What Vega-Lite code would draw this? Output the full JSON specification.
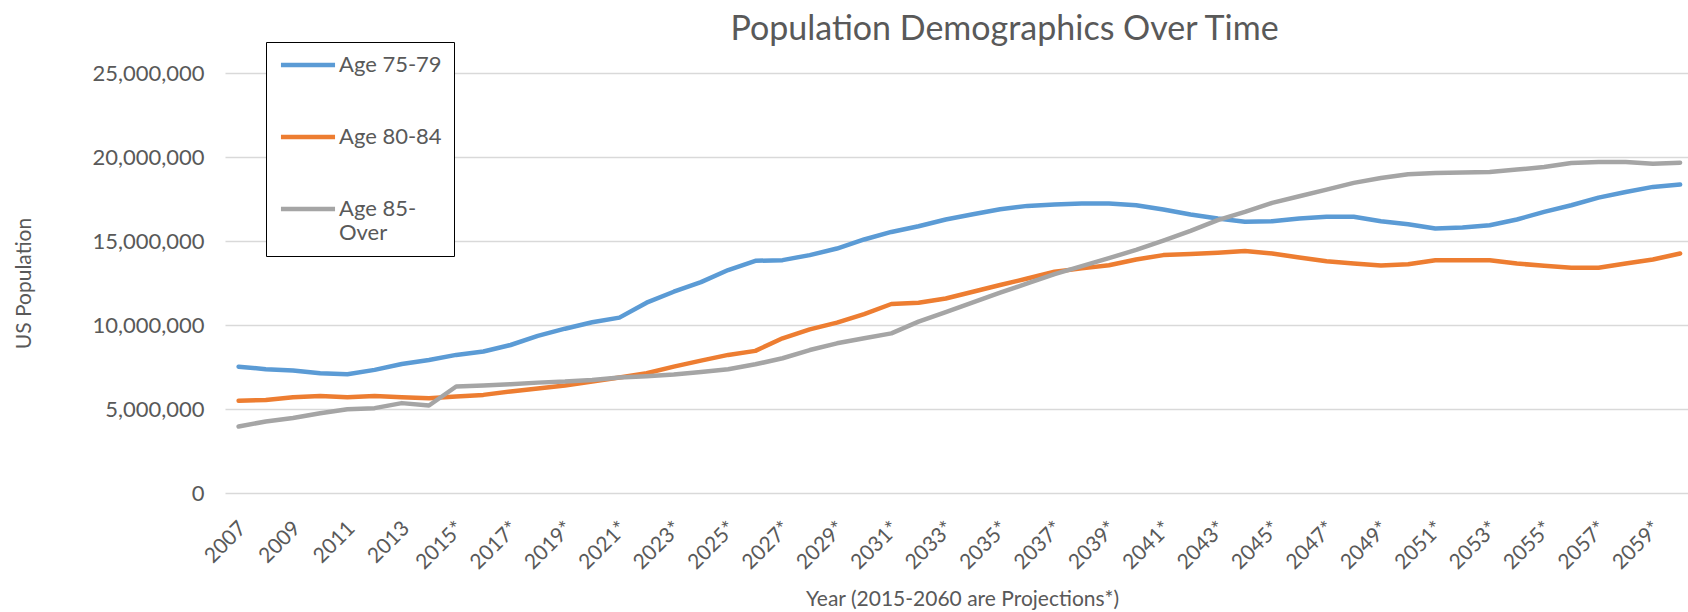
{
  "$schema": "https://vega.github.io/schema/vega-lite/v6.json",
  "autosize": {"type": "none"},
  "padding": {"left": 225, "top": 73, "right": 0, "bottom": 119},
  "width": 1463,
  "height": 420,
  "background": "white",
  "title": {
    "text": "Population Demographics Over Time",
    "font": "Lato",
    "fontSize": 34,
    "fontWeight": "normal",
    "color": "#595959",
    "anchor": "middle",
    "frame": "group",
    "dx": 48,
    "dy": 33,
    "offset": 28
  },
  "data": {
    "values": [
      {"year": 2007, "group": "Age 75-79", "pop": 7520000},
      {"year": 2008, "group": "Age 75-79", "pop": 7370000},
      {"year": 2009, "group": "Age 75-79", "pop": 7290000},
      {"year": 2010, "group": "Age 75-79", "pop": 7130000},
      {"year": 2011, "group": "Age 75-79", "pop": 7070000},
      {"year": 2012, "group": "Age 75-79", "pop": 7330000},
      {"year": 2013, "group": "Age 75-79", "pop": 7680000},
      {"year": 2014, "group": "Age 75-79", "pop": 7920000},
      {"year": 2015, "group": "Age 75-79", "pop": 8220000},
      {"year": 2016, "group": "Age 75-79", "pop": 8420000},
      {"year": 2017, "group": "Age 75-79", "pop": 8810000},
      {"year": 2018, "group": "Age 75-79", "pop": 9350000},
      {"year": 2019, "group": "Age 75-79", "pop": 9780000},
      {"year": 2020, "group": "Age 75-79", "pop": 10160000},
      {"year": 2021, "group": "Age 75-79", "pop": 10440000},
      {"year": 2022, "group": "Age 75-79", "pop": 11330000},
      {"year": 2023, "group": "Age 75-79", "pop": 11980000},
      {"year": 2024, "group": "Age 75-79", "pop": 12550000},
      {"year": 2025, "group": "Age 75-79", "pop": 13270000},
      {"year": 2026, "group": "Age 75-79", "pop": 13820000},
      {"year": 2027, "group": "Age 75-79", "pop": 13860000},
      {"year": 2028, "group": "Age 75-79", "pop": 14160000},
      {"year": 2029, "group": "Age 75-79", "pop": 14550000},
      {"year": 2030, "group": "Age 75-79", "pop": 15090000},
      {"year": 2031, "group": "Age 75-79", "pop": 15540000},
      {"year": 2032, "group": "Age 75-79", "pop": 15880000},
      {"year": 2033, "group": "Age 75-79", "pop": 16280000},
      {"year": 2034, "group": "Age 75-79", "pop": 16590000},
      {"year": 2035, "group": "Age 75-79", "pop": 16890000},
      {"year": 2036, "group": "Age 75-79", "pop": 17090000},
      {"year": 2037, "group": "Age 75-79", "pop": 17170000},
      {"year": 2038, "group": "Age 75-79", "pop": 17230000},
      {"year": 2039, "group": "Age 75-79", "pop": 17230000},
      {"year": 2040, "group": "Age 75-79", "pop": 17130000},
      {"year": 2041, "group": "Age 75-79", "pop": 16880000},
      {"year": 2042, "group": "Age 75-79", "pop": 16580000},
      {"year": 2043, "group": "Age 75-79", "pop": 16340000},
      {"year": 2044, "group": "Age 75-79", "pop": 16140000},
      {"year": 2045, "group": "Age 75-79", "pop": 16180000},
      {"year": 2046, "group": "Age 75-79", "pop": 16340000},
      {"year": 2047, "group": "Age 75-79", "pop": 16440000},
      {"year": 2048, "group": "Age 75-79", "pop": 16440000},
      {"year": 2049, "group": "Age 75-79", "pop": 16180000},
      {"year": 2050, "group": "Age 75-79", "pop": 16000000},
      {"year": 2051, "group": "Age 75-79", "pop": 15740000},
      {"year": 2052, "group": "Age 75-79", "pop": 15800000},
      {"year": 2053, "group": "Age 75-79", "pop": 15940000},
      {"year": 2054, "group": "Age 75-79", "pop": 16280000},
      {"year": 2055, "group": "Age 75-79", "pop": 16730000},
      {"year": 2056, "group": "Age 75-79", "pop": 17130000},
      {"year": 2057, "group": "Age 75-79", "pop": 17580000},
      {"year": 2058, "group": "Age 75-79", "pop": 17920000},
      {"year": 2059, "group": "Age 75-79", "pop": 18220000},
      {"year": 2060, "group": "Age 75-79", "pop": 18360000},
      {"year": 2007, "group": "Age 80-84", "pop": 5490000},
      {"year": 2008, "group": "Age 80-84", "pop": 5540000},
      {"year": 2009, "group": "Age 80-84", "pop": 5700000},
      {"year": 2010, "group": "Age 80-84", "pop": 5780000},
      {"year": 2011, "group": "Age 80-84", "pop": 5700000},
      {"year": 2012, "group": "Age 80-84", "pop": 5780000},
      {"year": 2013, "group": "Age 80-84", "pop": 5700000},
      {"year": 2014, "group": "Age 80-84", "pop": 5640000},
      {"year": 2015, "group": "Age 80-84", "pop": 5740000},
      {"year": 2016, "group": "Age 80-84", "pop": 5840000},
      {"year": 2017, "group": "Age 80-84", "pop": 6040000},
      {"year": 2018, "group": "Age 80-84", "pop": 6220000},
      {"year": 2019, "group": "Age 80-84", "pop": 6400000},
      {"year": 2020, "group": "Age 80-84", "pop": 6630000},
      {"year": 2021, "group": "Age 80-84", "pop": 6870000},
      {"year": 2022, "group": "Age 80-84", "pop": 7130000},
      {"year": 2023, "group": "Age 80-84", "pop": 7520000},
      {"year": 2024, "group": "Age 80-84", "pop": 7880000},
      {"year": 2025, "group": "Age 80-84", "pop": 8220000},
      {"year": 2026, "group": "Age 80-84", "pop": 8460000},
      {"year": 2027, "group": "Age 80-84", "pop": 9210000},
      {"year": 2028, "group": "Age 80-84", "pop": 9740000},
      {"year": 2029, "group": "Age 80-84", "pop": 10140000},
      {"year": 2030, "group": "Age 80-84", "pop": 10650000},
      {"year": 2031, "group": "Age 80-84", "pop": 11250000},
      {"year": 2032, "group": "Age 80-84", "pop": 11330000},
      {"year": 2033, "group": "Age 80-84", "pop": 11580000},
      {"year": 2034, "group": "Age 80-84", "pop": 11980000},
      {"year": 2035, "group": "Age 80-84", "pop": 12380000},
      {"year": 2036, "group": "Age 80-84", "pop": 12770000},
      {"year": 2037, "group": "Age 80-84", "pop": 13170000},
      {"year": 2038, "group": "Age 80-84", "pop": 13370000},
      {"year": 2039, "group": "Age 80-84", "pop": 13560000},
      {"year": 2040, "group": "Age 80-84", "pop": 13900000},
      {"year": 2041, "group": "Age 80-84", "pop": 14160000},
      {"year": 2042, "group": "Age 80-84", "pop": 14220000},
      {"year": 2043, "group": "Age 80-84", "pop": 14300000},
      {"year": 2044, "group": "Age 80-84", "pop": 14400000},
      {"year": 2045, "group": "Age 80-84", "pop": 14260000},
      {"year": 2046, "group": "Age 80-84", "pop": 14020000},
      {"year": 2047, "group": "Age 80-84", "pop": 13800000},
      {"year": 2048, "group": "Age 80-84", "pop": 13660000},
      {"year": 2049, "group": "Age 80-84", "pop": 13540000},
      {"year": 2050, "group": "Age 80-84", "pop": 13620000},
      {"year": 2051, "group": "Age 80-84", "pop": 13860000},
      {"year": 2052, "group": "Age 80-84", "pop": 13860000},
      {"year": 2053, "group": "Age 80-84", "pop": 13860000},
      {"year": 2054, "group": "Age 80-84", "pop": 13660000},
      {"year": 2055, "group": "Age 80-84", "pop": 13520000},
      {"year": 2056, "group": "Age 80-84", "pop": 13410000},
      {"year": 2057, "group": "Age 80-84", "pop": 13410000},
      {"year": 2058, "group": "Age 80-84", "pop": 13660000},
      {"year": 2059, "group": "Age 80-84", "pop": 13900000},
      {"year": 2060, "group": "Age 80-84", "pop": 14260000},
      {"year": 2007, "group": "Age 85-Over", "pop": 3960000},
      {"year": 2008, "group": "Age 85-Over", "pop": 4260000},
      {"year": 2009, "group": "Age 85-Over", "pop": 4460000},
      {"year": 2010, "group": "Age 85-Over", "pop": 4750000},
      {"year": 2011, "group": "Age 85-Over", "pop": 4990000},
      {"year": 2012, "group": "Age 85-Over", "pop": 5050000},
      {"year": 2013, "group": "Age 85-Over", "pop": 5350000},
      {"year": 2014, "group": "Age 85-Over", "pop": 5210000},
      {"year": 2015, "group": "Age 85-Over", "pop": 6340000},
      {"year": 2016, "group": "Age 85-Over", "pop": 6400000},
      {"year": 2017, "group": "Age 85-Over", "pop": 6480000},
      {"year": 2018, "group": "Age 85-Over", "pop": 6570000},
      {"year": 2019, "group": "Age 85-Over", "pop": 6630000},
      {"year": 2020, "group": "Age 85-Over", "pop": 6730000},
      {"year": 2021, "group": "Age 85-Over", "pop": 6870000},
      {"year": 2022, "group": "Age 85-Over", "pop": 6950000},
      {"year": 2023, "group": "Age 85-Over", "pop": 7050000},
      {"year": 2024, "group": "Age 85-Over", "pop": 7200000},
      {"year": 2025, "group": "Age 85-Over", "pop": 7370000},
      {"year": 2026, "group": "Age 85-Over", "pop": 7660000},
      {"year": 2027, "group": "Age 85-Over", "pop": 8020000},
      {"year": 2028, "group": "Age 85-Over", "pop": 8510000},
      {"year": 2029, "group": "Age 85-Over", "pop": 8910000},
      {"year": 2030, "group": "Age 85-Over", "pop": 9210000},
      {"year": 2031, "group": "Age 85-Over", "pop": 9500000},
      {"year": 2032, "group": "Age 85-Over", "pop": 10200000},
      {"year": 2033, "group": "Age 85-Over", "pop": 10770000},
      {"year": 2034, "group": "Age 85-Over", "pop": 11350000},
      {"year": 2035, "group": "Age 85-Over", "pop": 11920000},
      {"year": 2036, "group": "Age 85-Over", "pop": 12480000},
      {"year": 2037, "group": "Age 85-Over", "pop": 13030000},
      {"year": 2038, "group": "Age 85-Over", "pop": 13500000},
      {"year": 2039, "group": "Age 85-Over", "pop": 13980000},
      {"year": 2040, "group": "Age 85-Over", "pop": 14470000},
      {"year": 2041, "group": "Age 85-Over", "pop": 15020000},
      {"year": 2042, "group": "Age 85-Over", "pop": 15600000},
      {"year": 2043, "group": "Age 85-Over", "pop": 16240000},
      {"year": 2044, "group": "Age 85-Over", "pop": 16730000},
      {"year": 2045, "group": "Age 85-Over", "pop": 17270000},
      {"year": 2046, "group": "Age 85-Over", "pop": 17660000},
      {"year": 2047, "group": "Age 85-Over", "pop": 18060000},
      {"year": 2048, "group": "Age 85-Over", "pop": 18460000},
      {"year": 2049, "group": "Age 85-Over", "pop": 18750000},
      {"year": 2050, "group": "Age 85-Over", "pop": 18970000},
      {"year": 2051, "group": "Age 85-Over", "pop": 19050000},
      {"year": 2052, "group": "Age 85-Over", "pop": 19070000},
      {"year": 2053, "group": "Age 85-Over", "pop": 19110000},
      {"year": 2054, "group": "Age 85-Over", "pop": 19250000},
      {"year": 2055, "group": "Age 85-Over", "pop": 19410000},
      {"year": 2056, "group": "Age 85-Over", "pop": 19640000},
      {"year": 2057, "group": "Age 85-Over", "pop": 19700000},
      {"year": 2058, "group": "Age 85-Over", "pop": 19700000},
      {"year": 2059, "group": "Age 85-Over", "pop": 19600000},
      {"year": 2060, "group": "Age 85-Over", "pop": 19660000}
    ]
  },
  "mark": {"type": "line", "strokeWidth": 4.5, "strokeCap": "round", "strokeJoin": "round", "clip": true},
  "encoding": {
    "x": {
      "field": "year",
      "type": "quantitative",
      "scale": {"domain": [2006.5, 2060.29], "nice": false, "zero": false},
      "axis": {
        "values": [2007, 2009, 2011, 2013, 2015, 2017, 2019, 2021, 2023, 2025, 2027, 2029, 2031, 2033, 2035, 2037, 2039, 2041, 2043, 2045, 2047, 2049, 2051, 2053, 2055, 2057, 2059],
        "labelExpr": "datum.value >= 2015 ? datum.value + '*' : datum.value + ''",
        "labelAngle": -45,
        "labelAlign": "right",
        "labelBaseline": "middle",
        "labelPadding": 32,
        "labelOffset": 4,
        "labelFont": "Lato",
        "labelFontSize": 21,
        "labelColor": "#595959",
        "labelOverlap": false,
        "labelBound": false,
        "labelFlush": false,
        "ticks": false,
        "domain": false,
        "grid": false,
        "title": "Year (2015-2060 are Projections*)",
        "titleFont": "Lato",
        "titleFontSize": 21,
        "titleFontWeight": "normal",
        "titleColor": "#595959",
        "titleX": 737,
        "titleY": 112,
        "titleAlign": "center",
        "titleBaseline": "alphabetic"
      }
    },
    "y": {
      "field": "pop",
      "type": "quantitative",
      "scale": {"domain": [0, 25000000], "nice": false},
      "axis": {
        "values": [0, 5000000, 10000000, 15000000, 20000000, 25000000],
        "format": ",.0f",
        "labelFont": "Lato",
        "labelFontSize": 22,
        "labelColor": "#595959",
        "labelPadding": 21,
        "ticks": false,
        "domain": false,
        "grid": true,
        "gridColor": "#D9D9D9",
        "gridWidth": 1.3,
        "title": "US Population",
        "titleFont": "Lato",
        "titleFontSize": 21,
        "titleFontWeight": "normal",
        "titleColor": "#595959",
        "titleAngle": -90,
        "titleX": -201,
        "titleY": 210,
        "titleAlign": "center",
        "titleBaseline": "middle"
      }
    },
    "color": {
      "field": "group",
      "type": "nominal",
      "scale": {"domain": ["Age 75-79", "Age 80-84", "Age 85-Over"], "range": ["#5B9BD5", "#ED7D31", "#A5A5A5"]},
      "legend": {
        "orient": "none",
        "legendX": 41,
        "legendY": -31,
        "direction": "vertical",
        "title": null,
        "symbolType": "M-5,0H5",
        "symbolSize": 117,
        "symbolStrokeWidth": 4.5,
        "symbolOffset": 19,
        "labelFont": "Lato",
        "labelFontSize": 22,
        "labelColor": "#595959",
        "labelOffset": 20,
        "labelExpr": "datum.label == 'Age 85-Over' ? ['Age 85-', 'Over'] : datum.label",
        "strokeColor": "#000000",
        "fillColor": "#FFFFFF",
        "padding": 12,
        "rowPadding": 50
      }
    }
  },
  "config": {"view": {"stroke": null}}
}
